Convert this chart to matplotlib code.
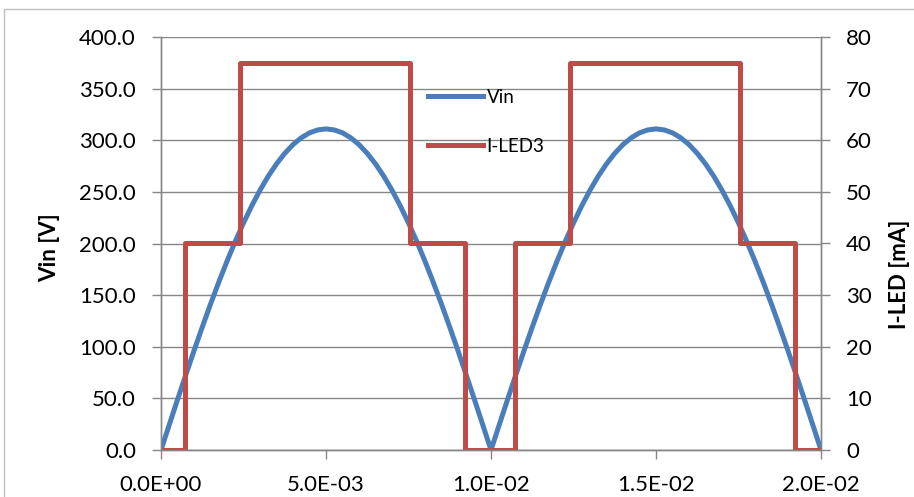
import matplotlib
matplotlib.use("Agg")
import matplotlib.pyplot as plt
from matplotlib.ticker import FuncFormatter, MultipleLocator
from matplotlib.patches import Rectangle
import numpy as np

plt.rcParams['font.family'] = ['Lato', 'DejaVu Sans']

# rectified mains voltage, sampled every 0.25 ms
t_vin = np.linspace(0, 0.02, 81)
vin = [0.0, 24.4, 48.7, 72.6, 96.1, 119.0, 141.2, 162.5, 182.8, 202.0,
       219.9, 236.5, 251.6, 265.2, 277.1, 287.3, 295.8, 302.4, 307.2, 310.0,
       311.0, 310.0, 307.2, 302.4, 295.8, 287.3, 277.1, 265.2, 251.6, 236.5,
       219.9, 202.0, 182.8, 162.5, 141.2, 119.0, 96.1, 72.6, 48.7, 24.4,
       0.0, 24.4, 48.7, 72.6, 96.1, 119.0, 141.2, 162.5, 182.8, 202.0,
       219.9, 236.5, 251.6, 265.2, 277.1, 287.3, 295.8, 302.4, 307.2, 310.0,
       311.0, 310.0, 307.2, 302.4, 295.8, 287.3, 277.1, 265.2, 251.6, 236.5,
       219.9, 202.0, 182.8, 162.5, 141.2, 119.0, 96.1, 72.6, 48.7, 24.4,
       0.0]

# LED current steps (value holds from each edge to the next)
t_led = [0.0, 0.00073, 0.0024, 0.00755, 0.0092, 0.01073, 0.0124, 0.01755, 0.01922, 0.02]
i_led = [0, 40, 75, 40, 0, 40, 75, 40, 0, 0]

xticks = [0.0, 0.005, 0.01, 0.015, 0.02]

GRAY = '#868686'
BLUE = '#4A7EBB'
RED = '#BE4B48'

W, H = 914, 497
fig = plt.figure(figsize=(W / 100, H / 100), dpi=100)
fig.patches.append(Rectangle((4 / W, -0.1), 1.2, 1 - 9 / H + 0.1, transform=fig.transFigure,
                             fill=False, edgecolor='#BFBFBF', lw=1))

ax = fig.add_axes([161 / W, 1 - 450 / H, (821 - 161) / W, (450 - 37) / H])
ax2 = ax.twinx()

l1, = ax.plot(t_vin, vin, color=BLUE, lw=3.6, label='Vin')
l2, = ax2.step(t_led, i_led, where='post', color=RED, lw=3.6, label='I-LED3')

ax.set_xlim(0, 0.02)
ax.set_ylim(0, 400)
ax2.set_ylim(0, 80)
ax.set_xticks(xticks)
ax.yaxis.set_major_locator(MultipleLocator(50))
ax2.yaxis.set_major_locator(MultipleLocator(10))
ax.xaxis.set_major_formatter(FuncFormatter(lambda v, p: f"{v:.1E}"))
ax.yaxis.set_major_formatter(FuncFormatter(lambda v, p: f"{v:.1f}"))
ax2.yaxis.set_major_formatter(FuncFormatter(lambda v, p: f"{v:.0f}"))

ax.grid(axis='y', color=GRAY, lw=1)
ax.set_axisbelow(True)

for a in (ax, ax2):
    a.spines['top'].set_visible(False)
    for s in ('left', 'right', 'bottom'):
        a.spines[s].set_color(GRAY)
        a.spines[s].set_linewidth(1)
    a.tick_params(direction='out', length=6.5, width=1, color=GRAY, labelsize=16, pad=11.5)

fig.text(50 / W, 1 - 248 / H, 'Vin [V]', rotation=90, ha='center', va='center',
         fontsize=16, fontweight='bold')
fig.text(899 / W, 1 - 274 / H, 'I-LED [mA]', rotation=90, ha='center', va='center',
         fontsize=16, fontweight='bold')

ax2.legend([l1, l2], ['Vin', 'I-LED3'], loc='upper left',
           bbox_to_anchor=(428 / W, 1 - 89 / H), bbox_transform=fig.transFigure,
           frameon=False, fontsize=13.5, borderpad=0, borderaxespad=0,
           handlelength=2.93, handletextpad=0.2, labelspacing=1.7)

fig.savefig('out.png', dpi=100)
